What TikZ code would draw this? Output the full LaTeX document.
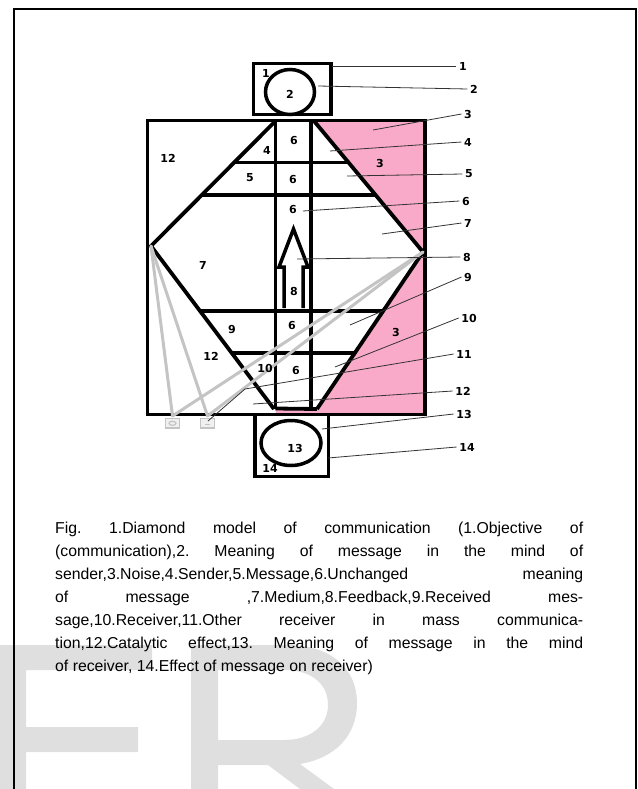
\documentclass[tikz,border=0pt]{standalone}
\usepackage{fontspec}
\setmainfont{Liberation Sans}
\newfontfamily\labfont{DejaVu Sans}
\definecolor{pinkfill}{RGB}{249,170,200}
\definecolor{wmgrey}{RGB}{223,223,223}
\definecolor{raygrey}{RGB}{196,196,196}
\newcommand\capline[1]{\hbox to 528pt{\spaceskip=0.278em plus 1fil\relax #1}}
\begin{document}
\begin{tikzpicture}[x=1pt,y=-1pt,
  struct/.style={line width=3.8pt, line join=miter},
  ray/.style={raygrey, line width=3pt, line cap=round},
  leader/.style={black!80, line width=0.8pt},
  lab/.style={font=\labfont\bfseries\fontsize{11}{12}\selectfont, inner sep=0pt},
  rlab/.style={lab, inner sep=2.5pt},
  ]
\useasboundingbox (0,0) rectangle (637,789);
% watermark
\fill[wmgrey] (0,645) -- (152,645) -- (152,670) -- (26,670) -- (26,727) -- (138,727) -- (138,752) -- (26,752) -- (26,789) -- (0,789) -- cycle;
\fill[wmgrey, even odd rule] (191,789) -- (191,645) -- (288,645) .. controls (330,645) and (357,668) .. (357,703) .. controls (357,736) and (335,758) .. (300,764) -- (334,789) -- (300,789) -- (268,765) -- (218,765) -- (218,789) -- cycle
  (218,670) -- (284,670) .. controls (313,670) and (328,685) .. (328,705) .. controls (328,726) and (310,740) .. (284,740) -- (218,740) -- cycle;
% frame
\draw[line width=2pt] (14,789) -- (14,9) -- (635.5,9) -- (635.5,789);
% named points
\coordinate (TL) at (147.5,120.5);
\coordinate (BR) at (425,414.5);
\coordinate (apL) at (151,246);
\coordinate (apR) at (423,252);
\coordinate (topL) at (275.5,121);
\coordinate (topR) at (314,121);
\coordinate (botL) at (274,409);
\coordinate (botR) at (317,409);
% pink noise
\fill[pinkfill] (topR) -- (425,121) -- (apR) -- cycle;
\fill[pinkfill] (apR) -- (botR) -- (275.5,409) -- (275.5,414) -- (425,414) -- cycle;
% top box
\draw[line width=3.5pt] (253.5,63.5) rectangle (331,114.5);
\draw[line width=3.5pt] (290,92) ellipse (24.5 and 22.5);
% bottom box
\draw[line width=3.8pt] (255,414.5) rectangle (328.5,476.5);
\draw[line width=3.5pt] (291,443) ellipse (30 and 22.5);
% main rectangle
\draw[struct] (TL) rectangle (BR);
% strip
\draw[struct] (topL) -- (275.5,409);
\draw[struct] (311,121) -- (311,409);
\draw[struct] (275.5,408.5) -- (botR);
% diamond
\draw[struct] (topL) -- (apL) -- (botL);
\draw[struct] (topR) -- (apR) -- (botR);
% horizontals
\draw[struct] (234.8,162.5) -- (348.3,162.5);
\draw[struct] (202.2,195) -- (375.8,195);
\draw[struct] (199,311) -- (384,311);
\draw[struct] (231.5,353) -- (355,353);
% arrow
\draw[line width=3.5pt, line join=miter] (284,308) -- (284,267) -- (279,267) -- (293.5,229) -- (308,267) -- (303,267) -- (303,308);
% rays
\coordinate (rc1) at (172.5,416);
\coordinate (rc2) at (207.5,416);
\draw[ray] (apL) -- (rc1);
\draw[ray] (apL) -- (rc2);
\draw[ray] (apR) -- (rc1);
\draw[ray] (apR) -- (rc2);
\draw[raygrey, line width=1.5pt, fill=gray!12] (165.5,418.5) rectangle (179.5,428);
\draw[raygrey, line width=1.2pt] (172.5,423.3) ellipse (3.5 and 2);
\draw[raygrey, line width=1.5pt, fill=gray!12] (200.5,418.5) rectangle (214.5,428);
\draw[raygrey, line width=1.2pt] (205,424.5) -- (210,424.5);
% inner labels
\node[lab] (n1) at (266,73) {1};
\node[lab] (n2) at (290,94) {2};
\node[lab] (n12a) at (168,158) {12};
\node[lab] (n6a) at (294,141) {6};
\node[lab] (n4) at (267,150) {4};
\node[lab] (n5) at (250,178) {5};
\node[lab] (n6b) at (293,180) {6};
\node[lab] (n6c) at (293,209) {6};
\node[lab] (n3a) at (380,163) {3};
\node[lab] (n7) at (203,265) {7};
\node[lab] (n8) at (294,291) {8};
\node[lab] (n9) at (232,329) {9};
\node[lab] (n6d) at (292,325) {6};
\node[lab] (n12b) at (211,356) {12};
\node[lab] (n10) at (265,368) {10};
\node[lab] (n6e) at (296,370) {6};
\node[lab] (n3b) at (396,332) {3};
\node[lab] (n13) at (295,448) {13};
\node[lab] (n14) at (270,468) {14};
% right labels
\node[rlab] (l1) at (463,66) {1};
\node[rlab] (l2) at (474,89) {2};
\node[rlab] (l3) at (468,114) {3};
\node[rlab] (l4) at (468,142) {4};
\node[rlab] (l5) at (469,174) {5};
\node[rlab] (l6) at (466,201) {6};
\node[rlab] (l7) at (468,223) {7};
\node[rlab] (l8) at (467,257) {8};
\node[rlab] (l9) at (468,277) {9};
\node[rlab] (l10) at (469,318) {10};
\node[rlab] (l11) at (464,354) {11};
\node[rlab] (l12) at (463,391) {12};
\node[rlab] (l13) at (464,414) {13};
\node[rlab] (l14) at (467,447) {14};
% leader starts
\coordinate (s1) at (332,66);
\coordinate (s2) at (318,86);
\coordinate (s3) at (373,130);
\coordinate (s4) at (330,151);
\coordinate (s5) at (347,176);
\coordinate (s6) at (303,211);
\coordinate (s7) at (382,234);
\coordinate (s8) at (297,259);
\coordinate (s9) at (350,325);
\coordinate (s10) at (335,367);
\coordinate (s11a) at (208,421);
\coordinate (s11b) at (245,389);
\coordinate (s12) at (253,404);
\coordinate (s13) at (322,429);
\coordinate (s14) at (328,458);
\draw[leader] (s1) -- (l1.west);
\draw[leader] (s2) -- (l2.west);
\draw[leader] (s3) -- (l3.west);
\draw[leader] (s4) -- (l4.west);
\draw[leader] (s5) -- (l5.west);
\draw[leader] (s6) -- (l6.west);
\draw[leader] (s7) -- (l7.west);
\draw[leader] (s8) -- (l8.west);
\draw[leader] (s9) -- (l9.west);
\draw[leader] (s10) -- (l10.west);
\draw[leader] (s11a) -- (s11b) -- (l11.west);
\draw[leader] (s12) -- (l12.west);
\draw[leader] (s13) -- (l13.west);
\draw[leader] (s14) -- (l14.west);
% caption
\node[anchor=base west, inner sep=0pt] (cap) at (55,533) {\fontsize{15.8}{23}\selectfont\frenchspacing
  \vtop{\baselineskip=23pt\lineskiplimit=-100pt
  \capline{Fig. 1.Diamond model of communication (1.Objective of}
  \capline{(communication),2. Meaning of message in the mind of}
  \capline{sender,3.Noise,4.Sender,5.Message,6.Unchanged meaning}
  \capline{of message ,7.Medium,8.Feedback,9.Received mes-}
  \capline{sage,10.Receiver,11.Other receiver in mass communica-}
  \capline{tion,12.Catalytic effect,13. Meaning of message in the mind}
  \hbox{of receiver, 14.Effect of message on receiver)}}};
\end{tikzpicture}
\end{document}
